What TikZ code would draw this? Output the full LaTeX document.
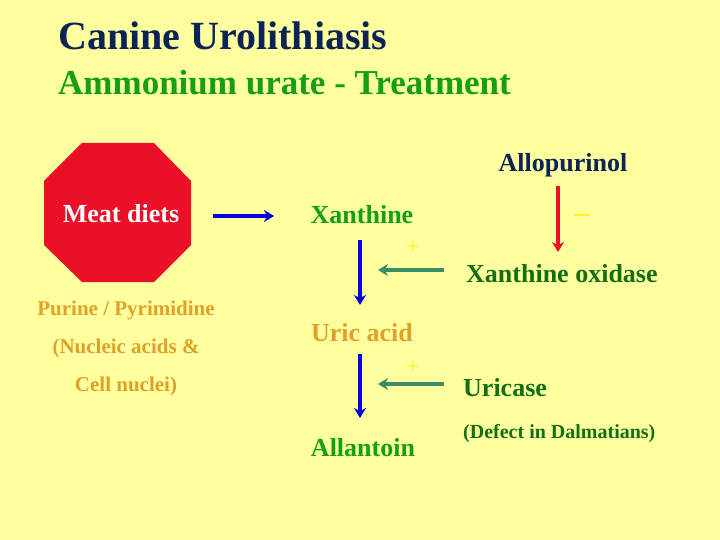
\documentclass[tikz,border=0pt]{standalone}
\usepackage{fontspec}
\setmainfont{Liberation Serif}
\usetikzlibrary{arrows.meta}
\definecolor{bg}{RGB}{255,255,160}
\definecolor{navy}{RGB}{12,35,85}
\definecolor{tgreen}{RGB}{20,160,20}
\definecolor{dgreen}{RGB}{20,110,20}
\definecolor{orng}{RGB}{225,160,40}
\definecolor{sgreen}{RGB}{60,140,100}
\definecolor{ablue}{RGB}{0,0,220}
\definecolor{ared}{RGB}{235,15,40}
\definecolor{plus}{RGB}{255,240,40}
\begin{document}
\begin{tikzpicture}[x=1pt,y=-1pt,
  lbl/.style={font=\bfseries\fontsize{26}{28}\selectfont,inner sep=0},
  sml/.style={font=\bfseries\fontsize{21}{23}\selectfont,inner sep=0,text=orng},
  barrow/.style={draw=ablue,line width=3.5pt,-{Stealth[length=10pt,width=12pt]}},
  garrow/.style={draw=sgreen,line width=3.5pt,-{Stealth[length=10pt,width=12pt]}},
  sign/.style={font=\fontsize{24}{24}\selectfont,text=plus,inner sep=0}]
\fill[bg] (0,0) rectangle (720,540);
\node[anchor=base west,inner sep=0,text=navy,font=\bfseries\fontsize{40}{42}\selectfont] (t1) at (58,50) {Canine Urolithiasis};
\node[anchor=base west,inner sep=0,text=tgreen,font=\bfseries\fontsize{35}{37}\selectfont] (t2) at (58,95) {Ammonium urate - Treatment};
\fill[ared] (82,143) -- (154,143) -- (191,181) -- (191,245) -- (154,282) -- (82,282) -- (44,245) -- (44,181) -- cycle;
\node[lbl,text=white] (meat) at (121,214) {Meat diets};
\node[sml] (p1) at (126,310) {Purine / Pyrimidine};
\node[sml] (p2) at (126,348) {(Nucleic acids \&};
\node[sml] (p3) at (126,386) {Cell nuclei)};
\node[lbl,text=tgreen] (xan) at (362,215) {Xanthine};
\node[lbl,text=orng] (uric) at (362,333) {Uric acid};
\node[lbl,text=tgreen] (all) at (363,448) {Allantoin};
\node[lbl,text=navy] (allo) at (563,165) {Allopurinol};
\node[lbl,text=dgreen,anchor=west] (xo) at (466,274) {Xanthine oxidase};
\node[lbl,text=dgreen,anchor=west] (uri) at (463,388) {Uricase};
\node[font=\bfseries\fontsize{20}{22}\selectfont,inner sep=0,text=dgreen,anchor=west] (def) at (463,434) {(Defect in Dalmatians)};
\node[sign] (pl1) at (413,248) {+};
\node[sign] (pl2) at (413,368) {+};
\node[font=\bfseries\fontsize{30}{30}\selectfont,text=plus,inner sep=0] (mn) at (582,218) {–};
\coordinate (ma) at (213,216); \coordinate (mb) at (274,216);
\draw[barrow] (ma) -- (mb);
\coordinate (d1a) at (360,240); \coordinate (d1b) at (360,305);
\draw[barrow] (d1a) -- (d1b);
\coordinate (d2a) at (360,354); \coordinate (d2b) at (360,418);
\draw[barrow] (d2a) -- (d2b);
\coordinate (g1a) at (444,270); \coordinate (g1b) at (378,270);
\draw[garrow] (g1a) -- (g1b);
\coordinate (g2a) at (444,384); \coordinate (g2b) at (378,384);
\draw[garrow] (g2a) -- (g2b);
\coordinate (ra) at (558,186); \coordinate (rb) at (558,252);
\draw[draw=ared,line width=3.5pt,-{Stealth[length=10pt,width=12pt]}] (ra) -- (rb);
\end{tikzpicture}
\end{document}
